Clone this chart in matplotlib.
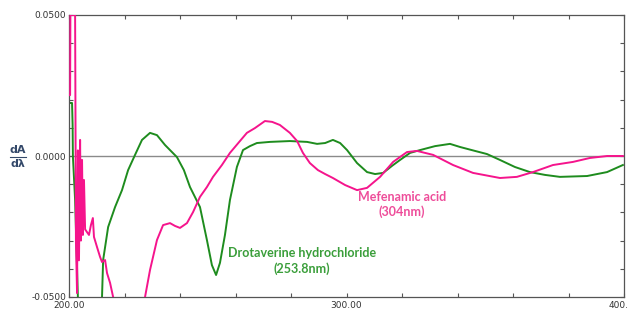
import matplotlib.pyplot as plt
from matplotlib.ticker import MultipleLocator, FixedLocator

# Drotaverine hydrochloride first-derivative spectrum (nm, dA/dl)
dro_wl = [200.0, 201.1, 201.3, 201.4, 202.2, 203.2, 207.0, 211.9, 212.3, 214.1, 216.6,
          219.1, 221.3, 223.8, 226.3, 229.2, 231.7, 234.6, 236.4, 238.9, 241.4, 243.6,
          247.2, 249.7, 251.5, 253.0, 254.4, 256.2, 258.0, 260.5, 262.7, 265.2, 267.7,
          272.4, 279.6, 285.8, 289.4, 292.3, 295.1, 297.7, 300.2, 303.8, 307.4, 310.3,
          313.2, 316.4, 319.3, 322.9, 326.5, 331.9, 337.3, 340.9, 346.3, 350.6, 355.3,
          360.7, 366.1, 371.5, 376.9, 386.7, 393.9, 399.6]
dro_val = [0.0188, 0.0188, 0.0110, 0.0000, -0.0156, -0.0500, -0.0800, -0.0500, -0.0369,
           -0.0252, -0.0181, -0.0121, -0.0050, 0.0004, 0.0057, 0.0082, 0.0074, 0.0039,
           0.0021, -0.0004, -0.0050, -0.0110, -0.0181, -0.0298, -0.0387, -0.0422, -0.0379,
           -0.0280, -0.0156, -0.0039, 0.0021, 0.0035, 0.0046, 0.0050, 0.0053, 0.0050,
           0.0043, 0.0046, 0.0057, 0.0046, 0.0021, -0.0025, -0.0057, -0.0064, -0.0060,
           -0.0035, -0.0014, 0.0011, 0.0021, 0.0035, 0.0043, 0.0032, 0.0018, 0.0007,
           -0.0014, -0.0039, -0.0057, -0.0067, -0.0074, -0.0071, -0.0057, -0.0032]

# Mefenamic acid first-derivative spectrum
mef_wl = [200.0, 200.4, 200.5, 202.2, 202.5, 202.9, 203.2, 203.6, 204.0, 204.3, 204.7,
          205.0, 205.4, 205.8, 206.5, 207.2, 207.9, 208.6, 209.0, 210.1, 211.2, 211.9,
          213.0, 213.7, 214.8, 215.9, 222.0, 227.4, 229.2, 231.7, 233.9, 236.4, 238.2,
          240.0, 242.5, 244.7, 247.2, 249.7, 251.9, 255.1, 258.0, 261.6, 264.1, 267.0,
          270.6, 273.2, 276.0, 279.6, 282.2, 284.3, 286.8, 289.7, 292.3, 295.1, 299.5,
          303.8, 307.4, 312.1, 316.8, 321.8, 325.4, 331.2, 338.4, 345.6, 355.3, 361.4,
          367.2, 374.4, 381.6, 387.7, 393.9, 399.6]
mef_val = [0.0216, 0.0216, 0.0500, 0.0500, -0.0300, -0.0486, 0.0020, -0.0370, 0.0057,
           -0.0300, -0.0014, -0.0280, -0.0085, -0.0260, -0.0270, -0.0280, -0.0245, -0.0220,
           -0.0287, -0.0323, -0.0358, -0.0376, -0.0369, -0.0415, -0.0450, -0.0500, -0.0800,
           -0.0500, -0.0404, -0.0298, -0.0245, -0.0238, -0.0248, -0.0255, -0.0238, -0.0199,
           -0.0145, -0.0110, -0.0074, -0.0032, 0.0011, 0.0053, 0.0082, 0.0099, 0.0124,
           0.0121, 0.0110, 0.0082, 0.0053, 0.0011, -0.0025, -0.0050, -0.0064, -0.0078,
           -0.0103, -0.0121, -0.0113, -0.0074, -0.0021, 0.0014, 0.0018, 0.0004, -0.0032,
           -0.0060, -0.0078, -0.0074, -0.0057, -0.0032, -0.0021, -0.0007, 0.0000, 0.0000]

x_ticks = [200, 300, 400]
x_labels = ["200.00", "300.00", "400.00"]
y_ticks = [-0.05, 0.0, 0.05]
y_labels = ["-0.0500", "0.0000", "0.0500"]

PINK, GREEN = "#f5148c", "#1e8c1e"
PINK_TXT, GREEN_TXT = "#ee4d9a", "#3a9e3a"
AX_COL, TXT = "#555555", "#333333"

fig = plt.figure(figsize=(6.28, 3.12), dpi=100, facecolor="white")
ax = fig.add_axes([69 / 628, 15 / 312, 555 / 628, 282 / 312])

ax.axhline(0, color="#8a8a8a", lw=1.0, zorder=1)
ax.plot(dro_wl, dro_val, color=GREEN, lw=1.4, zorder=2)
ax.plot(mef_wl, mef_val, color=PINK, lw=1.4, zorder=3)

ax.set_xlim(200, 400)
ax.set_ylim(-0.05, 0.05)
ax.xaxis.set_major_locator(FixedLocator(x_ticks))
ax.set_xticklabels(x_labels)
ax.xaxis.set_minor_locator(MultipleLocator(20))
ax.yaxis.set_major_locator(FixedLocator(y_ticks))
ax.set_yticklabels(y_labels)
ax.yaxis.set_minor_locator(MultipleLocator(0.01))
ax.tick_params(which="both", direction="in", top=True, right=True, color=AX_COL,
               length=3, width=0.8, labelsize=6.5, labelcolor=TXT, pad=2)
ax.tick_params(axis="x", which="major", pad=3)
for s in ax.spines.values():
    s.set_color(AX_COL)
    s.set_linewidth(0.9)

lbl = dict(fontsize=9, fontweight="bold", family="Lato", ha="center", va="center")
ax.text(284, -0.0344, "Drotaverine hydrochloride", color=GREEN_TXT, **lbl)
ax.text(284, -0.0399, "(253.8nm)", color=GREEN_TXT, **lbl)
ax.text(320, -0.0146, "Mefenamic acid", color=PINK_TXT, **lbl)
ax.text(320, -0.0199, "(304nm)", color=PINK_TXT, **lbl)

# dA/dλ axis label drawn as a small fraction
fig.text(18 / 628, 1 - 150 / 312, "dA", color="#34496a", fontsize=8, fontweight="bold",
         ha="center", va="center")
fig.text(18 / 628, 1 - 164 / 312, "dλ", color="#34496a", fontsize=8, fontweight="bold",
         ha="center", va="center")
fig.add_artist(plt.Line2D([10 / 628, 26 / 628], [1 - 157 / 312, 1 - 157 / 312],
                          color="#34496a", lw=0.8))

fig.savefig("out.png", dpi=100, facecolor="white")
